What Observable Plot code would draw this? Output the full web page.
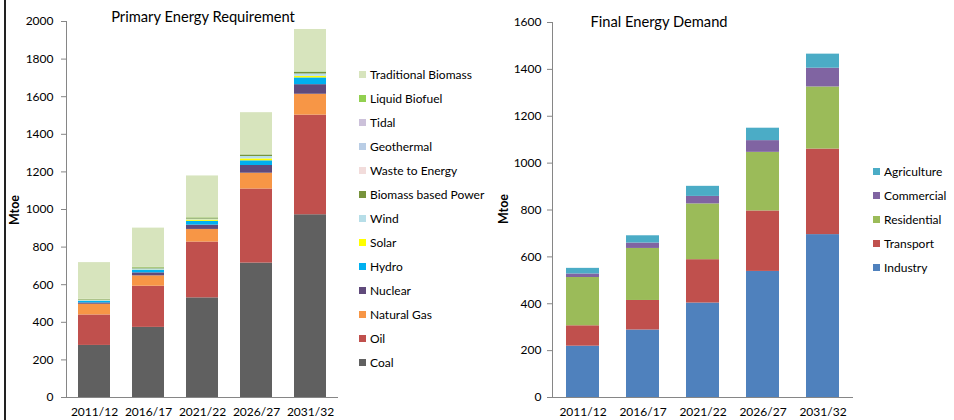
<!DOCTYPE html>
<html><head><meta charset="utf-8">
<script src="https://cdn.jsdelivr.net/npm/d3@7"></script>
<script src="https://cdn.jsdelivr.net/npm/@observablehq/plot@0.6"></script>
<style>
html,body{margin:0;padding:0;background:#fff;}
#root{position:relative;width:954px;height:420px;overflow:hidden;font-family:Lato,"Open Sans",sans-serif;color:#000;}
#root svg{position:absolute;top:0;}
.border{position:absolute;left:4px;top:0;width:2px;height:420px;background:#222;}
.title{position:absolute;font-size:14.7px;line-height:14.7px;white-space:nowrap;transform:translateX(-50%);}
.ylab{position:absolute;font-size:12.5px;font-weight:bold;line-height:13px;white-space:nowrap;transform:translate(-50%,-50%) rotate(-90deg);}
.legend{position:absolute;font-size:12px;}
.legend .row{height:24px;display:flex;align-items:center;white-space:nowrap;}
.legend .sw{width:7px;height:7px;margin-right:4px;flex:none;}
</style>
</head>
<body>
<div id="root">
  <div class="border"></div>
  <div class="title" style="left:203px;top:8.7px;">Primary Energy Requirement</div>
  <div class="title" style="left:659px;top:13.7px;">Final Energy Demand</div>
  <div class="ylab" style="left:14px;top:210px;">Mtoe</div>
  <div class="ylab" style="left:503px;top:209px;">Mtoe</div>
  <div class="legend" id="leg1" style="left:359px;top:62px;"></div>
  <div class="legend" id="leg2" style="left:873px;top:159px;"></div>
</div>
<script>
// ---- data ----
const years = ["2011/12", "2016/17", "2021/22", "2026/27", "2031/32"];

// Primary Energy Requirement (Mtoe), stacked bottom -> top
const primaryFuels = ["Coal", "Oil", "Natural Gas", "Nuclear", "Hydro", "Solar", "Wind",
  "Biomass based Power", "Waste to Energy", "Geothermal", "Tidal", "Liquid Biofuel", "Traditional Biomass"];
const primaryColors = ["#606060", "#C0504D", "#F79646", "#604A7B", "#00B0F0", "#FFFF00", "#B7DEE8",
  "#77933C", "#F2DCDB", "#B9CDE5", "#CCC1DA", "#92D050", "#D7E4BD"];
const coal       = [277, 373, 530, 715, 972];
const oil        = [162, 219, 297, 394, 530];
const naturalGas = [57, 55, 67, 84, 111];
const nuclear    = [7, 16, 23, 41, 51];
const hydro      = [9, 14, 20, 25, 36];
const solar      = [1, 1, 7, 10, 8];
const wind       = [4, 6, 5, 13, 13];
const biomassPower = [3, 5, 5, 7, 8];
const wasteToEnergy = [0.5, 0.5, 0.5, 1, 1];
const geothermal = [0, 0, 0, 0.5, 1];
const tidal      = [0, 0, 0, 0.5, 0.5];
const liquidBiofuel = [2, 2.5, 2, 2, 2];
const traditionalBiomass = [195, 209, 222, 222, 224];
const primarySeries = [coal, oil, naturalGas, nuclear, hydro, solar, wind, biomassPower,
  wasteToEnergy, geothermal, tidal, liquidBiofuel, traditionalBiomass];
const primaryTicks = [0, 200, 400, 600, 800, 1000, 1200, 1400, 1600, 1800, 2000];

// Final Energy Demand (Mtoe), stacked bottom -> top
const sectors = ["Industry", "Transport", "Residential", "Commercial", "Agriculture"];
const sectorColors = ["#4F81BD", "#C0504D", "#9BBB59", "#8064A2", "#4BACC6"];
const industry    = [219, 288, 403, 538, 695];
const transport   = [87, 126, 185, 258, 365];
const residential = [206, 222, 238, 250, 265];
const commercial  = [15, 23, 32, 50, 80];
const agriculture = [24, 31, 43, 53, 60];
const finalSeries = [industry, transport, residential, commercial, agriculture];
const finalTicks = [0, 200, 400, 600, 800, 1000, 1200, 1400, 1600];

// ---- tidy tables ----
const primary = [];
primaryFuels.forEach((f, i) => years.forEach((y, j) => primary.push({year: y, fuel: f, value: primarySeries[i][j]})));
const finalD = [];
sectors.forEach((s, i) => years.forEach((y, j) => finalD.push({year: y, sector: s, value: finalSeries[i][j]})));

const axisColor = "#868686";
const baseStyle = {fontFamily: "Lato, 'Open Sans', sans-serif", fontSize: "12px", color: "#000", background: "transparent", overflow: "visible"};

const p1 = Plot.plot({
  width: 360, height: 420,
  marginLeft: 66, marginRight: 22, marginTop: 21, marginBottom: 23,
  style: baseStyle,
  x: {domain: years, paddingInner: 0.4, paddingOuter: 0.2, label: null},
  y: {domain: [0, 2000], label: null},
  color: {domain: primaryFuels, range: primaryColors},
  marks: [
    Plot.barY(primary, {x: "year", y: "value", fill: "fuel", order: null}),
    Plot.ruleY([0], {stroke: axisColor}),
    Plot.frame({anchor: "left", stroke: axisColor}),
    Plot.axisY({ticks: primaryTicks, tickSize: 5, tickPadding: 8, stroke: axisColor, tickFormat: d => String(d), label: null}),
    Plot.axisX({tickSize: 0, tickPadding: 10, label: null})
  ]
});
p1.style.left = "0px";

const p2 = Plot.plot({
  width: 380, height: 420,
  marginLeft: 72, marginRight: 7, marginTop: 22, marginBottom: 23,
  style: baseStyle,
  x: {domain: years, paddingInner: 0.45, paddingOuter: 0.225, label: null},
  y: {domain: [0, 1600], label: null},
  color: {domain: sectors, range: sectorColors},
  marks: [
    Plot.barY(finalD, {x: "year", y: "value", fill: "sector", order: null}),
    Plot.ruleY([0], {stroke: axisColor}),
    Plot.frame({anchor: "left", stroke: axisColor}),
    Plot.axisY({ticks: finalTicks, tickSize: 5, tickPadding: 6, stroke: axisColor, tickFormat: d => String(d), label: null}),
    Plot.axisX({tickSize: 0, tickPadding: 10, label: null})
  ]
});
p2.style.left = "480px";

const root = document.getElementById("root");
root.appendChild(p1);
root.appendChild(p2);

function buildLegend(el, names, colors) {
  for (let i = names.length - 1; i >= 0; i--) {
    const row = document.createElement("div");
    row.className = "row";
    const sw = document.createElement("span");
    sw.className = "sw";
    sw.style.background = colors[i];
    const tx = document.createElement("span");
    tx.textContent = names[i];
    row.appendChild(sw); row.appendChild(tx);
    el.appendChild(row);
  }
}
buildLegend(document.getElementById("leg1"), primaryFuels, primaryColors);
buildLegend(document.getElementById("leg2"), sectors, sectorColors);
</script>
</body></html>
